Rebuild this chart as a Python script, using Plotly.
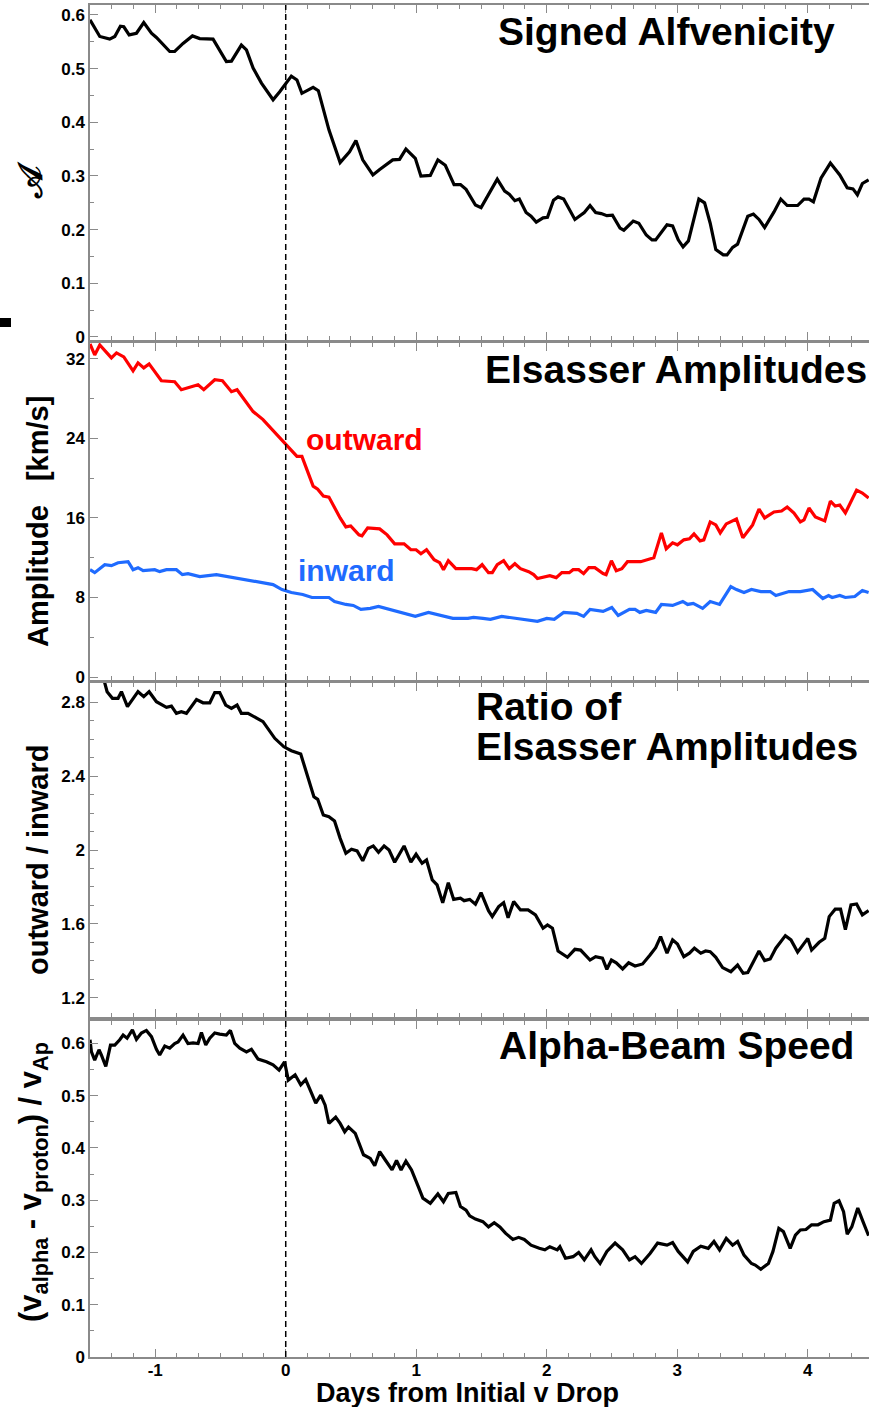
import plotly.graph_objects as go

# ---------------- data ----------------
alf_days = [-1.5, -1.425, -1.349, -1.310, -1.267, -1.241, -1.200, -1.144, -1.088, -1.029, -0.991, -0.889, -0.851,
            -0.787, -0.715, -0.659, -0.557, -0.455, -0.416, -0.340, -0.301, -0.250, -0.186, -0.097, -0.046, 0.043,
            0.086, 0.124, 0.210, 0.250, 0.331, 0.417, 0.489, 0.538, 0.590, 0.668, 0.720, 0.820, 0.872, 0.921, 0.993,
            1.036, 1.108, 1.166, 1.223, 1.290, 1.339, 1.382, 1.454, 1.497, 1.621, 1.678, 1.713, 1.756, 1.790, 1.842,
            1.880, 1.920, 1.972, 2.006, 2.052, 2.087, 2.130, 2.216, 2.288, 2.332, 2.375, 2.418, 2.461, 2.504, 2.562,
            2.591, 2.663, 2.706, 2.763, 2.807, 2.835, 2.922, 2.965, 3.008, 3.045, 3.086, 3.166, 3.210, 3.253, 3.296,
            3.353, 3.382, 3.425, 3.463, 3.541, 3.584, 3.627, 3.670, 3.742, 3.794, 3.843, 3.923, 3.972, 4.010, 4.044,
            4.102, 4.174, 4.246, 4.303, 4.347, 4.381, 4.419, 4.467]
alf_vals = [0.591, 0.560, 0.555, 0.560, 0.579, 0.578, 0.563, 0.566, 0.586, 0.566, 0.558, 0.532, 0.532,
            0.547, 0.561, 0.556, 0.555, 0.513, 0.514, 0.544, 0.535, 0.501, 0.473, 0.442, 0.457, 0.486,
            0.479, 0.454, 0.465, 0.459, 0.386, 0.325, 0.345, 0.366, 0.330, 0.302, 0.312, 0.330, 0.331, 0.350, 0.333,
            0.300, 0.301, 0.330, 0.320, 0.284, 0.284, 0.275, 0.246, 0.241, 0.294, 0.272, 0.266, 0.254, 0.257, 0.232,
            0.225, 0.214, 0.222, 0.223, 0.255, 0.261, 0.257, 0.219, 0.232, 0.245, 0.232, 0.230, 0.226, 0.227, 0.203,
            0.199, 0.216, 0.212, 0.190, 0.181, 0.181, 0.209, 0.207, 0.181, 0.168, 0.179, 0.257, 0.250, 0.212, 0.163,
            0.153, 0.153, 0.167, 0.173, 0.225, 0.229, 0.219, 0.204, 0.233, 0.257, 0.245, 0.245, 0.257, 0.257, 0.252,
            0.296, 0.324, 0.302, 0.278, 0.276, 0.265, 0.286, 0.293]

out_days = [-1.5, -1.464, -1.425, -1.336, -1.297, -1.241, -1.170, -1.132, -1.088, -1.047, -0.953, -0.851, -0.800,
            -0.749, -0.672, -0.628, -0.544, -0.485, -0.416, -0.373, -0.250, -0.174, -0.097, -0.029, 0.043, 0.086,
            0.124, 0.210, 0.245, 0.288, 0.331, 0.417, 0.461, 0.498, 0.561, 0.584, 0.628, 0.720, 0.777, 0.835, 0.907,
            0.959, 0.999, 1.036, 1.079, 1.137, 1.180, 1.209, 1.246, 1.304, 1.425, 1.462, 1.505, 1.554, 1.583, 1.621,
            1.670, 1.713, 1.756, 1.799, 1.862, 1.900, 1.929, 1.972, 2.024, 2.073, 2.116, 2.173, 2.202, 2.245, 2.283,
            2.323, 2.369, 2.432, 2.455, 2.496, 2.533, 2.576, 2.619, 2.720, 2.763, 2.821, 2.879, 2.916, 2.965, 3.002,
            3.051, 3.094, 3.129, 3.175, 3.204, 3.253, 3.296, 3.330, 3.376, 3.454, 3.503, 3.578, 3.627, 3.670, 3.742,
            3.800, 3.843, 3.895, 3.944, 3.972, 4.010, 4.059, 4.131, 4.174, 4.211, 4.246, 4.289, 4.375, 4.419, 4.467]
out_vals = [33.5, 32.4, 33.4, 32.1, 32.6, 32.2, 30.8, 31.6, 31.1, 31.5, 29.8, 29.7, 28.9,
            29.1, 29.4, 28.9, 29.9, 29.8, 28.7, 28.9, 26.7, 25.9, 24.8, 23.9, 22.8, 22.2,
            22.2, 19.2, 18.9, 18.2, 18.1, 16.0, 15.1, 15.2, 14.3, 14.2, 15.0, 14.9, 14.3, 13.4, 13.4,
            12.8, 12.8, 12.4, 12.8, 11.8, 11.5, 10.8, 11.7, 10.9, 10.9, 10.8, 11.3, 10.5, 10.5, 11.3,
            11.7, 10.9, 11.4, 10.9, 10.6, 10.3, 9.9, 10.0, 10.2, 10.0, 10.5, 10.5, 10.8, 10.8, 10.4,
            11.0, 11.0, 10.4, 10.3, 11.7, 10.7, 10.9, 11.6, 11.6, 11.8, 12.0, 14.5, 12.9, 13.5, 13.3,
            13.8, 13.9, 14.4, 13.7, 13.8, 15.6, 15.3, 14.5, 15.4, 15.9, 14.0, 15.3, 16.9, 16.0, 16.6,
            16.7, 17.1, 16.5, 15.6, 15.8, 17.0, 16.1, 15.7, 17.7, 17.2, 17.3, 16.5, 18.8, 18.5, 18.0]

in_days = [-1.5, -1.464, -1.387, -1.336, -1.285, -1.208, -1.170, -1.132, -1.093, -1.004, -0.966, -0.914, -0.838,
           -0.792, -0.749, -0.659, -0.531, -0.404, -0.250, -0.097, -0.029, 0.043, 0.130, 0.201, 0.331, 0.374,
           0.461, 0.518, 0.576, 0.648, 0.711, 0.820, 0.907, 0.993, 1.094, 1.166, 1.281, 1.396, 1.439, 1.511,
           1.569, 1.655, 1.770, 1.857, 1.929, 2.001, 2.058, 2.130, 2.231, 2.283, 2.332, 2.432, 2.499, 2.548,
           2.634, 2.677, 2.714, 2.763, 2.835, 2.879, 2.965, 3.043, 3.080, 3.123, 3.195, 3.253, 3.325, 3.411,
           3.454, 3.512, 3.569, 3.641, 3.713, 3.756, 3.857, 3.944, 4.038, 4.116, 4.160, 4.188, 4.246, 4.289,
           4.361, 4.419, 4.467]
in_vals = [10.8, 10.5, 11.3, 11.2, 11.5, 11.6, 10.8, 11.0, 10.7, 10.8, 10.6, 10.8, 10.8,
           10.3, 10.4, 10.1, 10.3, 10.0, 9.6, 9.3, 8.8, 8.5, 8.3, 8.0, 8.0, 7.6,
           7.3, 7.2, 6.8, 6.9, 7.1, 6.7, 6.4, 6.1, 6.5, 6.3, 5.9, 5.9, 6.0, 5.9,
           5.8, 6.1, 5.9, 5.8, 5.6, 5.9, 5.8, 6.5, 6.4, 6.1, 6.8, 6.6, 7.0, 6.2,
           6.8, 6.8, 6.5, 6.7, 6.5, 7.3, 7.2, 7.6, 7.3, 7.4, 6.9, 7.6, 7.3, 9.1,
           8.8, 8.5, 8.8, 8.6, 8.6, 8.2, 8.6, 8.6, 8.8, 7.9, 8.2, 8.0, 8.2, 8.0,
           8.1, 8.7, 8.5]

ratio_days = [-1.5, -1.387, -1.369, -1.328, -1.285, -1.259, -1.213, -1.175, -1.132, -1.088, -1.047, -0.991, -0.940,
              -0.914, -0.876, -0.838, -0.800, -0.761, -0.684, -0.634, -0.582, -0.544, -0.506, -0.460, -0.416,
              -0.373, -0.340, -0.289, -0.174, -0.084, -0.014, 0.043, 0.115, 0.158, 0.216, 0.245, 0.288, 0.331,
              0.374, 0.417, 0.461, 0.504, 0.547, 0.590, 0.633, 0.671, 0.711, 0.754, 0.792, 0.835, 0.907, 0.959,
              0.999, 1.045, 1.079, 1.123, 1.160, 1.203, 1.246, 1.287, 1.339, 1.367, 1.410, 1.454, 1.497, 1.554,
              1.583, 1.632, 1.670, 1.704, 1.747, 1.799, 1.857, 1.914, 1.972, 2.006, 2.044, 2.087, 2.159, 2.216,
              2.260, 2.332, 2.375, 2.427, 2.461, 2.496, 2.533, 2.582, 2.628, 2.677, 2.735, 2.792, 2.835, 2.873,
              2.922, 2.965, 3.002, 3.051, 3.094, 3.132, 3.181, 3.218, 3.253, 3.296, 3.348, 3.411, 3.463, 3.506,
              3.541, 3.627, 3.670, 3.713, 3.756, 3.829, 3.872, 3.923, 4.001, 4.030, 4.088, 4.131, 4.165, 4.211,
              4.252, 4.289, 4.332, 4.375, 4.419, 4.467]
ratio_vals = [3.05, 2.904, 2.856, 2.820, 2.820, 2.856, 2.775, 2.811, 2.856, 2.829, 2.856, 2.802, 2.784,
              2.771, 2.778, 2.739, 2.748, 2.739, 2.814, 2.796, 2.796, 2.851, 2.851, 2.784, 2.766,
              2.784, 2.739, 2.739, 2.694, 2.604, 2.558, 2.537, 2.519, 2.415, 2.288, 2.274, 2.189, 2.180,
              2.157, 2.063, 1.982, 2.004, 1.995, 1.942, 2.009, 2.022, 1.988, 2.022, 2.000, 1.934, 2.022, 1.934,
              1.977, 1.928, 1.946, 1.838, 1.811, 1.715, 1.823, 1.733, 1.739, 1.726, 1.733, 1.707, 1.769, 1.672,
              1.640, 1.694, 1.715, 1.634, 1.721, 1.676, 1.676, 1.649, 1.577, 1.595, 1.577, 1.454, 1.420, 1.463,
              1.459, 1.405, 1.423, 1.415, 1.355, 1.405, 1.390, 1.357, 1.390, 1.373, 1.384, 1.432, 1.472, 1.532,
              1.442, 1.514, 1.492, 1.423, 1.442, 1.469, 1.442, 1.454, 1.450, 1.420, 1.364, 1.342, 1.378, 1.333,
              1.337, 1.454, 1.402, 1.411, 1.469, 1.537, 1.514, 1.448, 1.522, 1.459, 1.501, 1.522, 1.640, 1.680,
              1.680, 1.570, 1.703, 1.708, 1.649, 1.672]

beam_days = [-1.5, -1.489, -1.464, -1.431, -1.413, -1.379, -1.343, -1.310, -1.272, -1.246, -1.216, -1.175, -1.144,
             -1.106, -1.068, -1.029, -0.991, -0.966, -0.927, -0.889, -0.851, -0.825, -0.787, -0.749, -0.710, -0.672,
             -0.646, -0.613, -0.582, -0.544, -0.506, -0.455, -0.424, -0.391, -0.352, -0.301, -0.263, -0.238, -0.212,
             -0.148, -0.097, -0.051, -0.020, -0.009, 0.020, 0.072, 0.115, 0.153, 0.187, 0.230, 0.268, 0.302, 0.331,
             0.383, 0.417, 0.452, 0.481, 0.533, 0.596, 0.648, 0.682, 0.720, 0.763, 0.815, 0.849, 0.884, 0.921,
             0.964, 1.016, 1.051, 1.108, 1.166, 1.209, 1.246, 1.304, 1.339, 1.382, 1.410, 1.454, 1.511, 1.554,
             1.598, 1.641, 1.684, 1.741, 1.785, 1.828, 1.880, 1.943, 1.986, 2.024, 2.081, 2.101, 2.144, 2.202,
             2.245, 2.288, 2.340, 2.369, 2.409, 2.461, 2.524, 2.582, 2.634, 2.677, 2.726, 2.792, 2.850, 2.922,
             2.965, 3.008, 3.080, 3.123, 3.181, 3.238, 3.282, 3.325, 3.376, 3.425, 3.463, 3.512, 3.569, 3.598,
             3.641, 3.699, 3.734, 3.779, 3.814, 3.866, 3.906, 3.944, 3.987, 4.030, 4.079, 4.125, 4.174, 4.203,
             4.240, 4.275, 4.303, 4.338, 4.384, 4.424, 4.467]
beam_vals = [0.607, 0.584, 0.568, 0.588, 0.578, 0.556, 0.597, 0.597, 0.607, 0.616, 0.610, 0.626, 0.608,
             0.620, 0.625, 0.613, 0.589, 0.578, 0.595, 0.591, 0.600, 0.603, 0.616, 0.600, 0.601, 0.600,
             0.621, 0.597, 0.610, 0.620, 0.618, 0.616, 0.625, 0.600, 0.591, 0.584, 0.589, 0.580, 0.570,
             0.565, 0.559, 0.549, 0.561, 0.565, 0.530, 0.540, 0.521, 0.531, 0.511, 0.486, 0.501, 0.482, 0.447,
             0.459, 0.447, 0.431, 0.440, 0.428, 0.387, 0.380, 0.366, 0.393, 0.377, 0.358, 0.376, 0.358, 0.375,
             0.358, 0.326, 0.304, 0.294, 0.312, 0.297, 0.313, 0.315, 0.288, 0.281, 0.270, 0.264, 0.259, 0.249,
             0.257, 0.249, 0.237, 0.225, 0.229, 0.225, 0.214, 0.208, 0.205, 0.211, 0.205, 0.211, 0.189, 0.192,
             0.200, 0.186, 0.205, 0.192, 0.179, 0.202, 0.218, 0.205, 0.186, 0.192, 0.179, 0.198, 0.218, 0.214,
             0.219, 0.202, 0.182, 0.202, 0.212, 0.208, 0.221, 0.205, 0.227, 0.214, 0.221, 0.195, 0.179, 0.176,
             0.168, 0.179, 0.202, 0.246, 0.240, 0.208, 0.233, 0.243, 0.244, 0.253, 0.253, 0.259, 0.262, 0.294,
             0.299, 0.278, 0.235, 0.249, 0.285, 0.259, 0.232]

x_tick_vals = [-1, 0, 1, 2, 3, 4]
x_tick_text = ["-1", "0", "1", "2", "3", "4"]

# ---------------- layout helpers ----------------
W, H = 869, 1407
ML, MR, MT, MB = 90, 0, 5, 50
PW, PH = W - ML - MR, H - MT - MB


def xp(px):
    return (px - ML) / PW


def yp(py):
    return (H - MB - py) / PH


FONT = "Liberation Sans, Arial, Helvetica, sans-serif"
AX = "#8a8a8a"
BLACK = "#000000"
RED = "#ff0000"
BLUE = "#1f6bff"
LW = 3.2

fig = go.Figure()
fig.add_trace(go.Scatter(x=alf_days, y=alf_vals, mode="lines", line=dict(color=BLACK, width=LW),
                         xaxis="x", yaxis="y", showlegend=False))
fig.add_trace(go.Scatter(x=out_days, y=out_vals, mode="lines", line=dict(color=RED, width=LW),
                         xaxis="x2", yaxis="y2", showlegend=False))
fig.add_trace(go.Scatter(x=in_days, y=in_vals, mode="lines", line=dict(color=BLUE, width=LW),
                         xaxis="x2", yaxis="y2", showlegend=False))
fig.add_trace(go.Scatter(x=ratio_days, y=ratio_vals, mode="lines", line=dict(color=BLACK, width=LW),
                         xaxis="x3", yaxis="y3", showlegend=False))
fig.add_trace(go.Scatter(x=beam_days, y=beam_vals, mode="lines", line=dict(color=BLACK, width=LW),
                         xaxis="x4", yaxis="y4", showlegend=False))

tickfont = dict(family=FONT, size=17, color=BLACK, weight="bold")

domains = [
    [yp(340), yp(5)],
    [yp(680), yp(343)],
    [yp(1017), yp(683)],
    [yp(1357), yp(1021)],
]
yranges = [
    [-0.0056, 0.6186],
    [-0.30, 33.6],
    [1.097, 2.903],
    [0.0, 0.643],
]
ydticks = [0.1, 8, 0.4, 0.1]
yminor = [0.05, 4, 0.1, 0.05]

layout = dict(
    width=W, height=H,
    margin=dict(l=ML, r=MR, t=MT, b=MB),
    paper_bgcolor="white", plot_bgcolor="white",
    font=dict(family=FONT, color=BLACK, weight="bold"),
    showlegend=False,
)
for i in range(4):
    n = "" if i == 0 else str(i + 1)
    layout["xaxis" + n] = dict(
        domain=[0, 1], anchor="y" + n, range=[-1.5, 4.47],
        tickmode="array", tickvals=x_tick_vals, ticktext=x_tick_text, showticklabels=(i == 3),
        ticks="inside", ticklen=8, tickwidth=1.2, tickcolor=AX, ticklabelstandoff=-3,
        minor=dict(dtick=1 / 6, tick0=0, ticks="inside", ticklen=4, tickwidth=1, tickcolor=AX, showgrid=False),
        showline=True, linecolor=AX, linewidth=1.5, mirror="ticks",
        showgrid=False, zeroline=False, tickfont=tickfont,
    )
    layout["yaxis" + n] = dict(
        domain=domains[i], anchor="x" + n, range=yranges[i],
        tick0=0, dtick=ydticks[i],
        ticks="inside", ticklen=8, tickwidth=1.2, tickcolor=AX,
        minor=dict(dtick=yminor[i], ticks="inside", ticklen=4, tickwidth=1, tickcolor=AX, showgrid=False),
        showline=True, linecolor=AX, linewidth=1.5, mirror=False,
        showgrid=False, zeroline=False, tickfont=tickfont,
    )
fig.update_layout(**layout)

# dashed vertical line at day 0 in every panel
for i in range(4):
    n = "" if i == 0 else str(i + 1)
    fig.add_shape(type="line", xref="x" + n, yref="y" + n + " domain", x0=0, x1=0, y0=0, y1=1,
                  line=dict(color=BLACK, width=1.5, dash="6px,4px"))

# small black mark at left edge
fig.add_shape(type="rect", xref="paper", yref="paper", x0=xp(0), x1=xp(11), y0=yp(327), y1=yp(318),
              fillcolor=BLACK, line=dict(width=0))

TITLE = dict(family=FONT, size=39, color=BLACK, weight="bold")
ann = []
ann.append(dict(text="Signed Alfvenicity", x=xp(837), y=yp(31), xanchor="right", yanchor="middle", font=TITLE))
ann.append(dict(text="Elsasser Amplitudes", x=xp(483), y=yp(370), xanchor="left", yanchor="middle", font=TITLE))
ann.append(dict(text="Ratio of", x=xp(474), y=yp(707), xanchor="left", yanchor="middle", font=TITLE))
ann.append(dict(text="Elsasser Amplitudes", x=xp(474), y=yp(746), xanchor="left", yanchor="middle", font=TITLE))
ann.append(dict(text="Alpha-Beam Speed", x=xp(497), y=yp(1045), xanchor="left", yanchor="middle", font=TITLE))

LBL = dict(family=FONT, size=30, weight="bold")
ann.append(dict(text="outward", x=xp(304), y=yp(439), xanchor="left", yanchor="middle",
                font=dict(LBL, color=RED)))
ann.append(dict(text="inward", x=xp(296), y=yp(570), xanchor="left", yanchor="middle",
                font=dict(LBL, color=BLUE)))

YT = dict(family=FONT, size=29, color=BLACK, weight="bold")
ann.append(dict(text="𝒜", x=xp(30), y=yp(180), xanchor="center", yanchor="middle", textangle=-90,
                font=dict(family="DejaVu Serif, serif", size=34, color=BLACK, weight="bold")))
ann.append(dict(text="Amplitude   [km/s]", x=xp(38), y=yp(522), xanchor="center", yanchor="middle",
                textangle=-90, font=YT))
ann.append(dict(text="outward / inward", x=xp(38), y=yp(860), xanchor="center", yanchor="middle",
                textangle=-90, font=YT))
ann.append(dict(text="(v<sub>alpha</sub> - v<sub>proton</sub>) / v<sub>Ap</sub>", x=xp(33), y=yp(1182),
                xanchor="center", yanchor="middle", textangle=-90, font=dict(YT, size=31)))
ann.append(dict(text="Days from Initial v Drop", x=xp(467), y=yp(1393), xanchor="center", yanchor="middle",
                font=dict(family=FONT, size=27, color=BLACK, weight="bold")))

for a in ann:
    a.update(xref="paper", yref="paper", showarrow=False)
fig.update_layout(annotations=ann)

fig.write_html("out.html")
